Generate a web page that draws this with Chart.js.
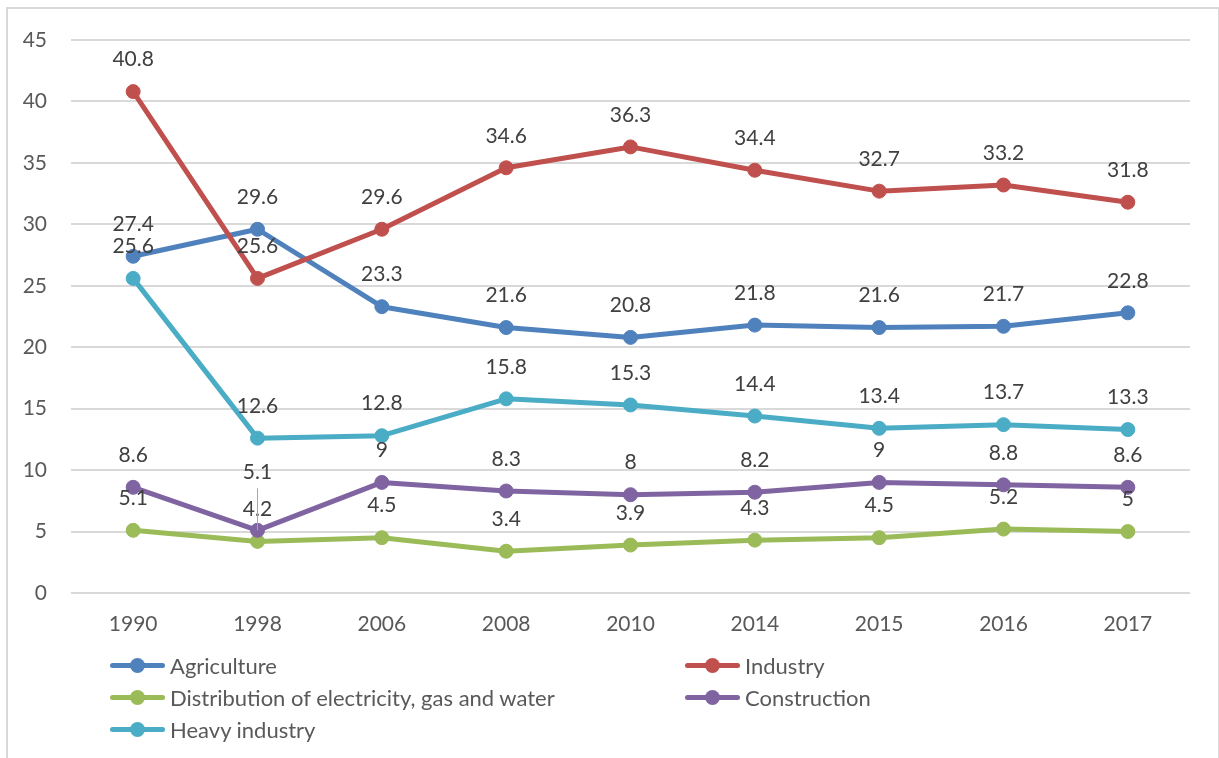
<!DOCTYPE html>
<html>
<head>
<meta charset="utf-8">
<title>Employment by sector</title>
<script src="https://cdn.jsdelivr.net/npm/chart.js@4.4.1/dist/chart.umd.min.js"></script>
<style>
    html, body {
        margin: 0;
        padding: 0;
        background: #ffffff;
        overflow: hidden;
    }
    .frame {
        position: absolute;
        left: 6px;
        top: 7px;
        width: 1210px;
        height: 800px;
        border: 2px solid #d9d9d9;
        border-bottom: none;
        pointer-events: none;
    }
    .chart-box {
        position: absolute;
        left: 0;
        top: 0;
        width: 1219px;
        height: 758px;
    }
    .legend {
        position: absolute;
        left: 110px;
        top: 649px;
        display: grid;
        grid-template-columns: 575px 400px;
        grid-auto-rows: 32px;
        font-family: Lato, "Open Sans", sans-serif;
        font-size: 22px;
        color: #595959;
    }
    .legend-item {
        display: flex;
        align-items: center;
    }
    .legend-mark {
        position: relative;
        width: 55px;
        height: 5px;
        border-radius: 3px;
        margin-right: 5px;
    }
    .legend-mark::after {
        content: "";
        position: absolute;
        left: 20px;
        top: -5px;
        width: 15px;
        height: 15px;
        border-radius: 50%;
        background: inherit;
    }
</style>
</head>
<body>
<div class="chart-box"><canvas id="sectorChart" width="1219" height="758"></canvas></div>
<div class="legend" id="legend"></div>
<div class="frame"></div>

<script>
// Years on the x axis
const years = ['1990', '1998', '2006', '2008', '2010', '2014', '2015', '2016', '2017'];

// Share by sector, %
const agriculture  = [27.4, 29.6, 23.3, 21.6, 20.8, 21.8, 21.6, 21.7, 22.8];
const industry     = [40.8, 25.6, 29.6, 34.6, 36.3, 34.4, 32.7, 33.2, 31.8];
const distribution = [5.1, 4.2, 4.5, 3.4, 3.9, 4.3, 4.5, 5.2, 5];
const construction = [8.6, 5.1, 9, 8.3, 8, 8.2, 9, 8.8, 8.6];
const heavyIndustry = [25.6, 12.6, 12.8, 15.8, 15.3, 14.4, 13.4, 13.7, 13.3];

const seriesNames = [
    'Agriculture',
    'Industry',
    'Distribution of electricity, gas and water',
    'Construction',
    'Heavy industry'
];
const seriesValues = [agriculture, industry, distribution, construction, heavyIndustry];
const seriesColors = ['#4f81bd', '#c0504d', '#9bbb59', '#8064a2', '#4bacc6'];

const fontFamily = 'Lato, "Open Sans", sans-serif';
const textColor = '#595959';

// Build datasets; later series are painted on top of earlier ones
const datasets = seriesNames.map((name, i) => ({
    label: name,
    data: seriesValues[i],
    borderColor: seriesColors[i],
    backgroundColor: seriesColors[i],
    borderWidth: 5,
    borderCapStyle: 'round',
    borderJoinStyle: 'round',
    pointRadius: 7,
    pointBorderWidth: 1,
    pointBackgroundColor: seriesColors[i],
    pointBorderColor: seriesColors[i],
    tension: 0,
    order: seriesNames.length - i
}));

// Value labels above each point
const valueLabels = {
    id: 'valueLabels',
    afterDatasetsDraw(chart, args, opts) {
        const ctx = chart.ctx;
        ctx.save();
        ctx.font = `21px ${fontFamily}`;
        ctx.fillStyle = '#404040';
        ctx.textAlign = 'center';
        ctx.textBaseline = 'middle';
        chart.data.datasets.forEach((ds, di) => {
            const meta = chart.getDatasetMeta(di);
            meta.data.forEach((pt, pi) => {
                const nudge = opts.nudges.find(n => n.dataset === di && n.index === pi);
                const lift = opts.offset + (nudge ? nudge.lift : 0);
                const y = pt.y - lift;
                if (nudge) {
                    // leader line back to the point
                    ctx.beginPath();
                    ctx.strokeStyle = '#a6a6a6';
                    ctx.lineWidth = 1;
                    ctx.moveTo(pt.x, y + 16);
                    ctx.lineTo(pt.x, pt.y);
                    ctx.stroke();
                }
                ctx.fillText(String(ds.data[pi]), pt.x, y);
            });
        });
        ctx.restore();
    }
};

const chart = new Chart(document.getElementById('sectorChart'), {
    type: 'line',
    data: {
        labels: years,
        datasets: datasets
    },
    options: {
        responsive: false,
        animation: false,
        layout: {
            padding: { left: 0, top: 40, right: 29, bottom: 0 }
        },
        plugins: {
            legend: { display: false },
            tooltip: { enabled: false },
            valueLabels: {
                offset: 32,
                nudges: [{ dataset: 3, index: 1, lift: 26 }]
            }
        },
        scales: {
            x: {
                offset: true,
                grid: { display: false },
                border: { display: false },
                ticks: {
                    color: textColor,
                    padding: 11,
                    font: { family: fontFamily, size: 21 }
                },
                afterFit(scale) { scale.height = 165; }
            },
            y: {
                min: 0,
                max: 45,
                ticks: {
                    stepSize: 5,
                    color: textColor,
                    padding: 24,
                    font: { family: fontFamily, size: 21 }
                },
                grid: {
                    color: '#d9d9d9',
                    lineWidth: 2,
                    drawTicks: false
                },
                border: { display: false },
                afterFit(scale) { scale.width = 71; }
            }
        }
    },
    plugins: [valueLabels]
});

// Two-column legend under the plot
const legendEl = document.getElementById('legend');
chart.data.datasets.forEach(ds => {
    const item = document.createElement('div');
    item.className = 'legend-item';
    const mark = document.createElement('span');
    mark.className = 'legend-mark';
    mark.style.background = ds.borderColor;
    const text = document.createElement('span');
    text.textContent = ds.label;
    item.appendChild(mark);
    item.appendChild(text);
    legendEl.appendChild(item);
});
</script>
</body>
</html>
